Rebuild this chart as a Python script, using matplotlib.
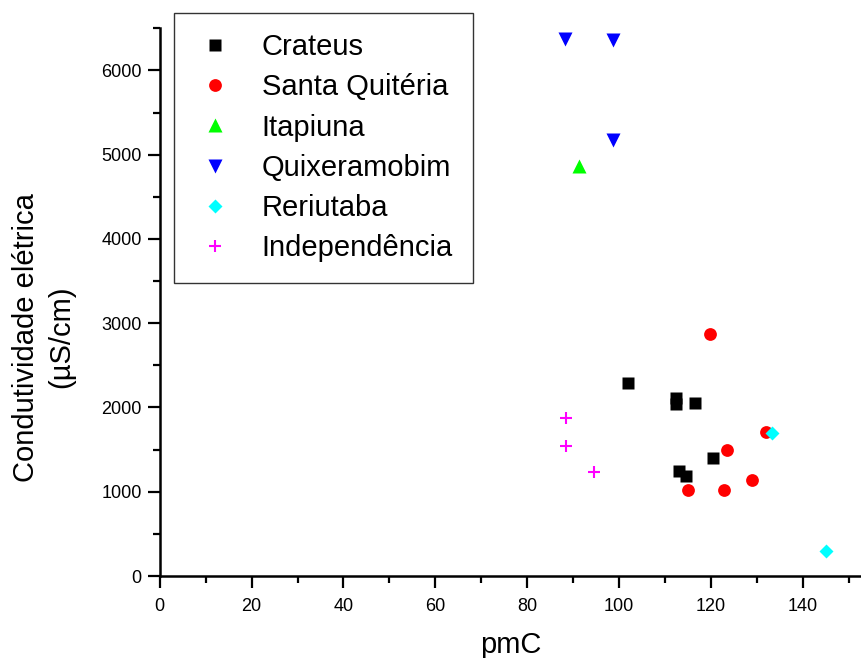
import matplotlib.pyplot as plt
from matplotlib.ticker import MultipleLocator

plt.rcParams['font.family'] = ['Liberation Sans', 'DejaVu Sans']

# pmC vs electrical conductivity by locality
crateus_x = [101.9, 112.5, 112.5, 116.6, 120.5, 113.0, 114.6]
crateus_y = [2292, 2107, 2036, 2048, 1395, 1245, 1190]

santa_x = [119.9, 132.1, 123.5, 129.0, 122.9, 115.1]
santa_y = [2873, 1708, 1494, 1135, 1023, 1023]

itapiuna_x = [91.2]
itapiuna_y = [4870]

quixera_x = [88.2, 98.6, 98.6]
quixera_y = [6376, 6356, 5170]

reriutaba_x = [133.4, 145.1]
reriutaba_y = [1692, 293]

indep_x = [88.5, 88.5, 94.6]
indep_y = [1870, 1541, 1237]

fig = plt.figure(figsize=(8.61, 6.58), dpi=100)
ax = fig.add_axes([0.1856, 0.1246, 0.8144, 0.8324])

ax.plot(crateus_x, crateus_y, 's', color='black', ms=8.6, mec='none', label='Crateus')
ax.plot(santa_x, santa_y, 'o', color='red', ms=9.2, mec='none', label='Santa Quitéria')
ax.plot(itapiuna_x, itapiuna_y, '^', color='#00ff00', ms=10.5, mec='none', label='Itapiuna')
ax.plot(quixera_x, quixera_y, 'v', color='blue', ms=10.5, mec='none', label='Quixeramobim')
ax.plot(reriutaba_x, reriutaba_y, 'D', color='cyan', ms=7.2, mec='none', label='Reriutaba')
ax.plot(indep_x, indep_y, '+', color='magenta', ms=9, mew=1.5, label='Independência')

ax.set_xlim(0, 152.7)
ax.set_ylim(0, 6500)
ax.xaxis.set_major_locator(MultipleLocator(20))
ax.xaxis.set_minor_locator(MultipleLocator(10))
ax.yaxis.set_major_locator(MultipleLocator(1000))
ax.yaxis.set_minor_locator(MultipleLocator(500))

for side in ['top', 'right']:
    ax.spines[side].set_visible(False)
for side in ['left', 'bottom']:
    ax.spines[side].set_linewidth(1.8)

ax.tick_params(which='major', length=8.6, width=1.6, labelsize=13, pad=4.5)
ax.tick_params(which='minor', length=4.8, width=1.6)
ax.tick_params(axis='x', which='major', pad=7)

ax.set_xlabel('pmC', fontsize=21, labelpad=12)
ax.set_ylabel('Condutividade elétrica\n(µS/cm)', fontsize=21, linespacing=1.35)
ax.yaxis.set_label_coords(-0.12, 0.436)

leg = fig.legend(loc='upper left', bbox_to_anchor=(0.2021, 0.9807), borderaxespad=0,
                 fontsize=21, frameon=True, fancybox=False, edgecolor='black',
                 handlelength=1.4, handletextpad=0.9,
                 labelspacing=0.42, borderpad=0.7)
leg.get_frame().set_linewidth(1.0)

fig.savefig('out.png', dpi=100)
